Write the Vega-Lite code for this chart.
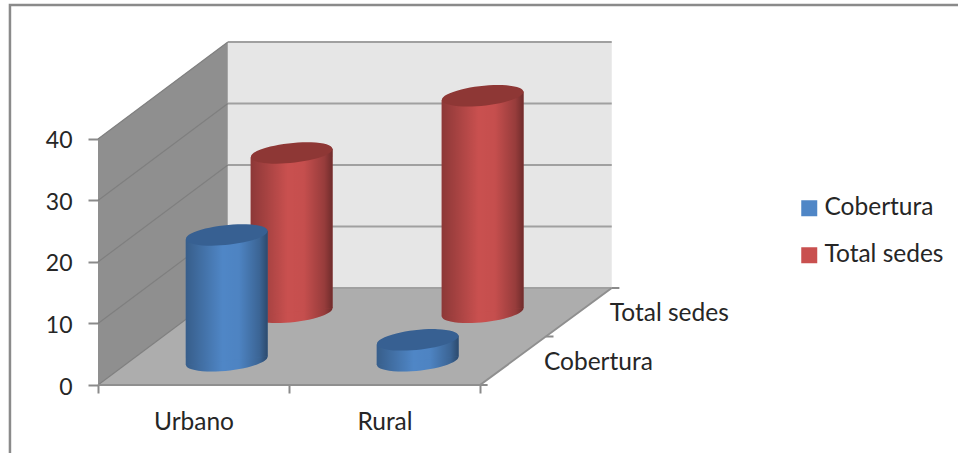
{
"$schema":"https://vega.github.io/schema/vega-lite/v6.json",
"width":860,"height":385,
"autosize":{"type":"none"},
"padding":{"left":98,"top":0,"right":0,"bottom":68},
"background":"#ffffff",
"config":{"view":{"stroke":null},"font":"Lato","text":{"font":"Lato"}},
"datasets":{
"cyl":[
{"category":"Urbano","series":"Cobertura","value":20.45},
{"category":"Rural","series":"Cobertura","value":3.4},
{"category":"Urbano","series":"Total sedes","value":25.9},
{"category":"Rural","series":"Total sedes","value":35.2}
],
"walls":[
{"part":"left","px":0,"py":0,"py2":40},
{"part":"left","px":0.68,"py":15.77,"py2":55.77},
{"part":"back","px":0.68,"py":15.77,"py2":55.77},
{"part":"back","px":2.69,"py":15.77,"py2":55.77},
{"part":"floor","px":0,"py":0,"py2":0},
{"part":"floor","px":0.68,"py":0,"py2":15.77},
{"part":"floor","px":2,"py":0,"py2":15.77},
{"part":"floor","px":2.69,"py":15.77,"py2":15.77}
],
"levels":[{"level":0},{"level":10},{"level":20},{"level":30},{"level":40}],
"depthTicks":[{"d":0},{"d":0.5},{"d":1}],
"frame":[
{"px":-0.461,"py":-11.06},
{"px":-0.461,"py":61.8},
{"px":4.503,"py":61.8}
]
},
"encoding":{
"x":{"field":"px","type":"quantitative","title":null,
"scale":{"domain":[0,4.503],"nice":false,"zero":false},
"axis":{"values":[0,0.5,1,1.5,2],"grid":false,"domain":false,"tickColor":"#8a8a8a","tickWidth":2,"tickSize":8,
"tickOpacity":{"condition":{"test":"datum.value==0.5||datum.value==1.5","value":0},"value":1},
"labelExpr":"datum.value==0.5?'Urbano':datum.value==1.5?'Rural':''",
"labelFontSize":24.5,"labelFont":"Lato","labelColor":"#262626","labelPadding":17,"labelFlush":false,"labelOverlap":false}},
"y":{"field":"py","type":"quantitative","title":null,
"scale":{"domain":[0,62.6],"nice":false,"zero":false},
"axis":{"values":[0,10,20,30,40],"grid":false,"domain":false,"tickColor":"#8a8a8a","tickWidth":2,"tickSize":10,
"labelFontSize":23,"labelFont":"Lato","labelColor":"#262626","labelPadding":16,"labelOffset":2}}
},
"layer":[
{"data":{"name":"frame"},"mark":{"type":"line","color":"#8a8a8a","strokeWidth":2.5,"clip":false},"encoding":{"order":{"field":"py","type":"quantitative"}}},
{"data":{"name":"walls"},"transform":[{"filter":"datum.part=='left'"}],"mark":{"type":"area","orient":"vertical","color":"#8f8f8f"},"encoding":{"y2":{"field":"py2"}}},
{"data":{"name":"walls"},"transform":[{"filter":"datum.part=='back'"}],"mark":{"type":"area","orient":"vertical","color":"#e6e6e6"},"encoding":{"y2":{"field":"py2"}}},
{"data":{"name":"walls"},"transform":[{"filter":"datum.part=='floor'"}],"mark":{"type":"area","orient":"vertical","color":"#adadad"},"encoding":{"y2":{"field":"py2"}}},
{"data":{"name":"levels"},"transform":[{"calculate":"[0,0.68]","as":"px"},{"flatten":["px"]},{"calculate":"datum.level+datum.px/0.68*15.77","as":"py"}],
"mark":{"type":"line","color":"#7f7f7f","strokeWidth":1.2},"encoding":{"detail":{"field":"level"}}},
{"data":{"name":"levels"},"transform":[{"calculate":"[0.68,2.69]","as":"px"},{"flatten":["px"]},{"calculate":"datum.level+15.77","as":"py"}],
"mark":{"type":"line","color":"#a0a0a0","strokeWidth":2},"encoding":{"detail":{"field":"level"}}},
{"data":{"name":"depthTicks"},"transform":[{"calculate":"[0,1]","as":"step"},{"flatten":["step"]},{"calculate":"2+datum.d*0.69+0.04*datum.step","as":"px"},{"calculate":"datum.d*15.77","as":"py"}],
"mark":{"type":"line","color":"#8a8a8a","strokeWidth":2},"encoding":{"detail":{"field":"d"}}},
{"data":{"name":"walls"},"transform":[{"filter":"datum.part=='floor'&&datum.px!=0.68"},{"calculate":"datum.px==2.69?15.77:0","as":"py"}],
"mark":{"type":"line","color":"#8f8f8f","strokeWidth":2}},
{"data":{"name":"cyl"},
"transform":[
{"calculate":"datum.series=='Cobertura'?0.25:0.75","as":"d"},
{"calculate":"(datum.category=='Urbano'?0.5:1.5)+datum.d*0.68+0.004","as":"px"},
{"calculate":"datum.d*15.77","as":"base"},
{"calculate":"datum.base+datum.value","as":"top"}
],
"layer":[
{"transform":[{"filter":"datum.series=='Total sedes'"},{"calculate":"datum.base","as":"py"}],
"mark":{"type":"point","filled":true,"opacity":1,"size":6724,"strokeWidth":0,"shape":"M -0.9945 0.1045 A 1 0.24 -6 1 1 0.9945 -0.1045 A 1 0.24 -6 1 1 -0.9945 0.1045 Z"},
"encoding":{"color":{"field":"series","type":"nominal","scale":{"domain":["Cobertura","Total sedes"],"range":["#4f86c6","#c9504f"]},
"legend":{"title":null,"orient":"none","legendX":699,"legendY":196,"symbolType":"square","symbolSize":256,"labelFontSize":24.5,"labelFont":"Lato","labelColor":"#262626","rowPadding":22,"labelOffset":3,"symbolStrokeWidth":0}}}},
{"transform":[{"filter":"datum.series=='Total sedes'"},{"calculate":"datum.base","as":"py"}],
"mark":{"type":"point","filled":true,"opacity":1,"size":6724,"strokeWidth":0,"fill":{"gradient":"linear","x1":0,"x2":1,"y1":0,"y2":0,"stops":[{"offset":0,"color":"rgba(0,0,0,0.3)"},{"offset":0.45,"color":"rgba(0,0,0,0)"},{"offset":0.65,"color":"rgba(0,0,0,0.02)"},{"offset":0.9,"color":"rgba(0,0,0,0.25)"},{"offset":1,"color":"rgba(0,0,0,0.45)"}]},"shape":"M -0.9945 0.1045 A 1 0.24 -6 1 1 0.9945 -0.1045 A 1 0.24 -6 1 1 -0.9945 0.1045 Z"}},
{"transform":[{"filter":"datum.series=='Total sedes'"},{"calculate":"[-1,1]","as":"side"},{"flatten":["side"]},{"calculate":"datum.px+datum.side*0.2147","as":"px"},{"calculate":"datum.top+datum.side*0.7","as":"py"},{"calculate":"datum.base+datum.side*0.7","as":"py2"}],
"mark":{"type":"area","orient":"vertical"},
"encoding":{"y2":{"field":"py2"},"detail":{"field":"category"},"color":{"field":"series","type":"nominal"}}},
{"transform":[{"filter":"datum.series=='Total sedes'"},{"calculate":"[-1,1]","as":"side"},{"flatten":["side"]},{"calculate":"datum.px+datum.side*0.2147","as":"px"},{"calculate":"datum.top+datum.side*0.7","as":"py"},{"calculate":"datum.base+datum.side*0.7","as":"py2"}],
"mark":{"type":"area","orient":"vertical","fill":{"gradient":"linear","x1":0,"x2":1,"y1":0,"y2":0,"stops":[{"offset":0,"color":"rgba(0,0,0,0.3)"},{"offset":0.45,"color":"rgba(0,0,0,0)"},{"offset":0.65,"color":"rgba(0,0,0,0.02)"},{"offset":0.9,"color":"rgba(0,0,0,0.25)"},{"offset":1,"color":"rgba(0,0,0,0.45)"}]}},
"encoding":{"y2":{"field":"py2"},"detail":{"field":"category"}}},
{"transform":[{"filter":"datum.series=='Total sedes'"},{"calculate":"datum.top","as":"py"}],
"mark":{"type":"point","filled":true,"opacity":1,"size":6724,"strokeWidth":0,"color":"#8e3735","shape":"M -0.9945 0.1045 A 1 0.24 -6 1 1 0.9945 -0.1045 A 1 0.24 -6 1 1 -0.9945 0.1045 Z"}},
{"transform":[{"filter":"datum.series=='Cobertura'"},{"calculate":"datum.base","as":"py"}],
"mark":{"type":"point","filled":true,"opacity":1,"size":6724,"strokeWidth":0,"shape":"M -0.9945 0.1045 A 1 0.24 -6 1 1 0.9945 -0.1045 A 1 0.24 -6 1 1 -0.9945 0.1045 Z"},
"encoding":{"color":{"field":"series","type":"nominal"}}},
{"transform":[{"filter":"datum.series=='Cobertura'"},{"calculate":"datum.base","as":"py"}],
"mark":{"type":"point","filled":true,"opacity":1,"size":6724,"strokeWidth":0,"fill":{"gradient":"linear","x1":0,"x2":1,"y1":0,"y2":0,"stops":[{"offset":0,"color":"rgba(0,0,0,0.3)"},{"offset":0.45,"color":"rgba(0,0,0,0)"},{"offset":0.65,"color":"rgba(0,0,0,0.02)"},{"offset":0.9,"color":"rgba(0,0,0,0.25)"},{"offset":1,"color":"rgba(0,0,0,0.45)"}]},"shape":"M -0.9945 0.1045 A 1 0.24 -6 1 1 0.9945 -0.1045 A 1 0.24 -6 1 1 -0.9945 0.1045 Z"}},
{"transform":[{"filter":"datum.series=='Cobertura'"},{"calculate":"[-1,1]","as":"side"},{"flatten":["side"]},{"calculate":"datum.px+datum.side*0.2147","as":"px"},{"calculate":"datum.top+datum.side*0.7","as":"py"},{"calculate":"datum.base+datum.side*0.7","as":"py2"}],
"mark":{"type":"area","orient":"vertical"},
"encoding":{"y2":{"field":"py2"},"detail":{"field":"category"},"color":{"field":"series","type":"nominal"}}},
{"transform":[{"filter":"datum.series=='Cobertura'"},{"calculate":"[-1,1]","as":"side"},{"flatten":["side"]},{"calculate":"datum.px+datum.side*0.2147","as":"px"},{"calculate":"datum.top+datum.side*0.7","as":"py"},{"calculate":"datum.base+datum.side*0.7","as":"py2"}],
"mark":{"type":"area","orient":"vertical","fill":{"gradient":"linear","x1":0,"x2":1,"y1":0,"y2":0,"stops":[{"offset":0,"color":"rgba(0,0,0,0.3)"},{"offset":0.45,"color":"rgba(0,0,0,0)"},{"offset":0.65,"color":"rgba(0,0,0,0.02)"},{"offset":0.9,"color":"rgba(0,0,0,0.25)"},{"offset":1,"color":"rgba(0,0,0,0.45)"}]}},
"encoding":{"y2":{"field":"py2"},"detail":{"field":"category"}}},
{"transform":[{"filter":"datum.series=='Cobertura'"},{"calculate":"datum.top","as":"py"}],
"mark":{"type":"point","filled":true,"opacity":1,"size":6724,"strokeWidth":0,"color":"#376092","shape":"M -0.9945 0.1045 A 1 0.24 -6 1 1 0.9945 -0.1045 A 1 0.24 -6 1 1 -0.9945 0.1045 Z"}},
{"transform":[{"filter":"datum.category=='Urbano'"},{"calculate":"2+datum.d*0.69","as":"px"},{"calculate":"datum.base","as":"py"}],
"mark":{"type":"text","align":"left","baseline":"middle","dx":31,"dy":2,"fontSize":24.5,"font":"Lato","color":"#262626"},
"encoding":{"text":{"field":"series"}}}
]}
]
}
